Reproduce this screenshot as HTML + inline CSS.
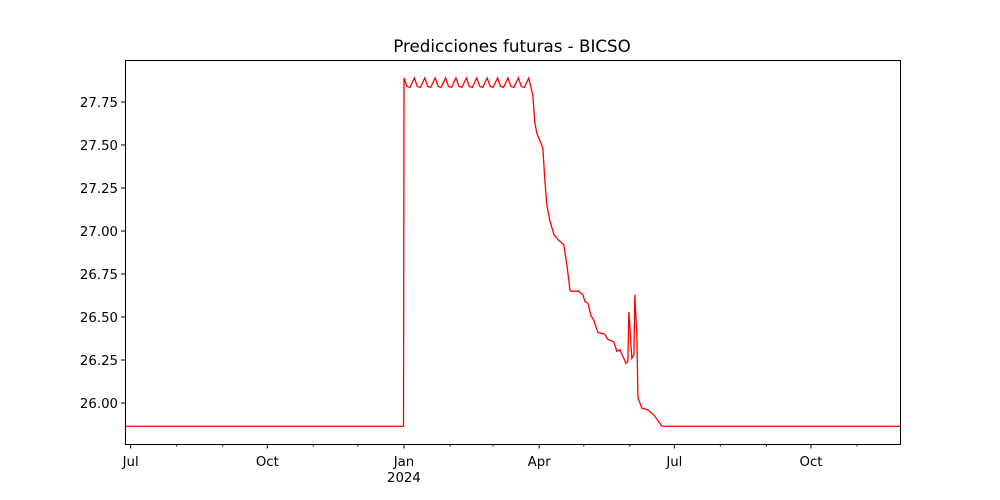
<!DOCTYPE html>
<html><head><meta charset="utf-8"><style>
body{margin:0;background:#fff}
svg{display:block;font-family:"DejaVu Sans","Liberation Sans",sans-serif}
</style></head><body>
<svg id="chart" width="1000" height="500" xmlns="http://www.w3.org/2000/svg">
<rect x="0" y="0" width="1000" height="500" fill="#fff"/>
<text x="512" y="52" text-anchor="middle" font-size="16.7">Predicciones futuras - BICSO</text>
<g id="axes"></g>
<path id="line" fill="none" stroke="#ff0000" stroke-width="1.3"/>
<rect x="125.5" y="60.5" width="775" height="384" fill="none" stroke="#000" stroke-width="1"/>
</svg>
<script>
// days relative to 2024-01-01
const days = [-188,-0.3,0,2,4,7,9,11,14,16,18,21,23,25,28,30,32,35,37,39,42,44,46,49,51,53,56,58,60,63,65,67,70,72,74,77,79,81,84,86.7,88.1,89.4,90.8,93.5,94.8,96.2,98.2,100.9,103.6,107.6,109.7,111.7,112.4,117.7,120.4,121.8,123.8,125.8,127.8,130.5,135.2,137.2,141.3,143.3,145.3,148.0,149.4,150.7,151.4,153.4,154.8,155.4,156.8,157.5,160.2,164.2,168.2,171.6,173.6,334];
const values = [25.865,25.865,27.89,27.84,27.835,27.89,27.84,27.835,27.89,27.84,27.835,27.89,27.84,27.835,27.89,27.84,27.835,27.89,27.84,27.835,27.89,27.84,27.835,27.89,27.84,27.835,27.89,27.84,27.835,27.89,27.84,27.835,27.89,27.84,27.835,27.89,27.84,27.835,27.89,27.79,27.63,27.57,27.54,27.48,27.30,27.15,27.06,26.98,26.95,26.92,26.80,26.66,26.65,26.65,26.63,26.59,26.58,26.51,26.48,26.41,26.40,26.37,26.355,26.30,26.31,26.26,26.23,26.24,26.53,26.26,26.28,26.63,26.38,26.03,25.97,25.96,25.93,25.89,25.865,25.865];
const yTicks = [26.00,26.25,26.50,26.75,27.00,27.25,27.50,27.75];
const majorTickDays = [-184,-92,0,91,182,274];
const majorTickLabels = ["Jul","Oct","Jan","Apr","Jul","Oct"];
const minorTickDays = [-153,-122,-61,-31,31,60,121,152,213,244,305];

const X0=125, X1=900, D0=-187.8, D1=333.9;
const x = d => X0 + (d - D0) / (D1 - D0) * (X1 - X0);
const y = v => 403 - (v - 26) * 172;
const NS="http://www.w3.org/2000/svg";
const axes=document.getElementById('axes');
function mk(tag, attrs, text){const e=document.createElementNS(NS,tag);for(const k in attrs)e.setAttribute(k,attrs[k]);if(text!==undefined)e.textContent=text;axes.appendChild(e);return e;}

yTicks.forEach(v=>{
  const t=mk('line',{x1:121,x2:125,y1:y(v),y2:y(v),stroke:'#000'});
  
  
  const l=mk('text',{x:118,y:y(v)+4.8,'text-anchor':'end','font-size':'13.3'},v.toFixed(2));
  
  
});
majorTickDays.forEach((d,i)=>{
  const t=mk('line',{x1:x(d),x2:x(d),y1:444,y2:448.5,stroke:'#000'});
  
  
  const l=mk('text',{x:x(d),y:466,'text-anchor':'middle','font-size':'13.3'},majorTickLabels[i]);
  
  
});
minorTickDays.forEach(d=>{
  const t=mk('line',{x1:x(d),x2:x(d),y1:444,y2:446.5,stroke:'#000'});
  
  
});
const yr=mk('text',{x:x(0),y:482,'text-anchor':'middle','font-size':'13.3'},'2024');



document.getElementById('line').setAttribute('d', days.map((d,i)=>(i?'L':'M')+x(d).toFixed(2)+','+y(values[i]).toFixed(2)).join(''));
</script>
</body></html>
